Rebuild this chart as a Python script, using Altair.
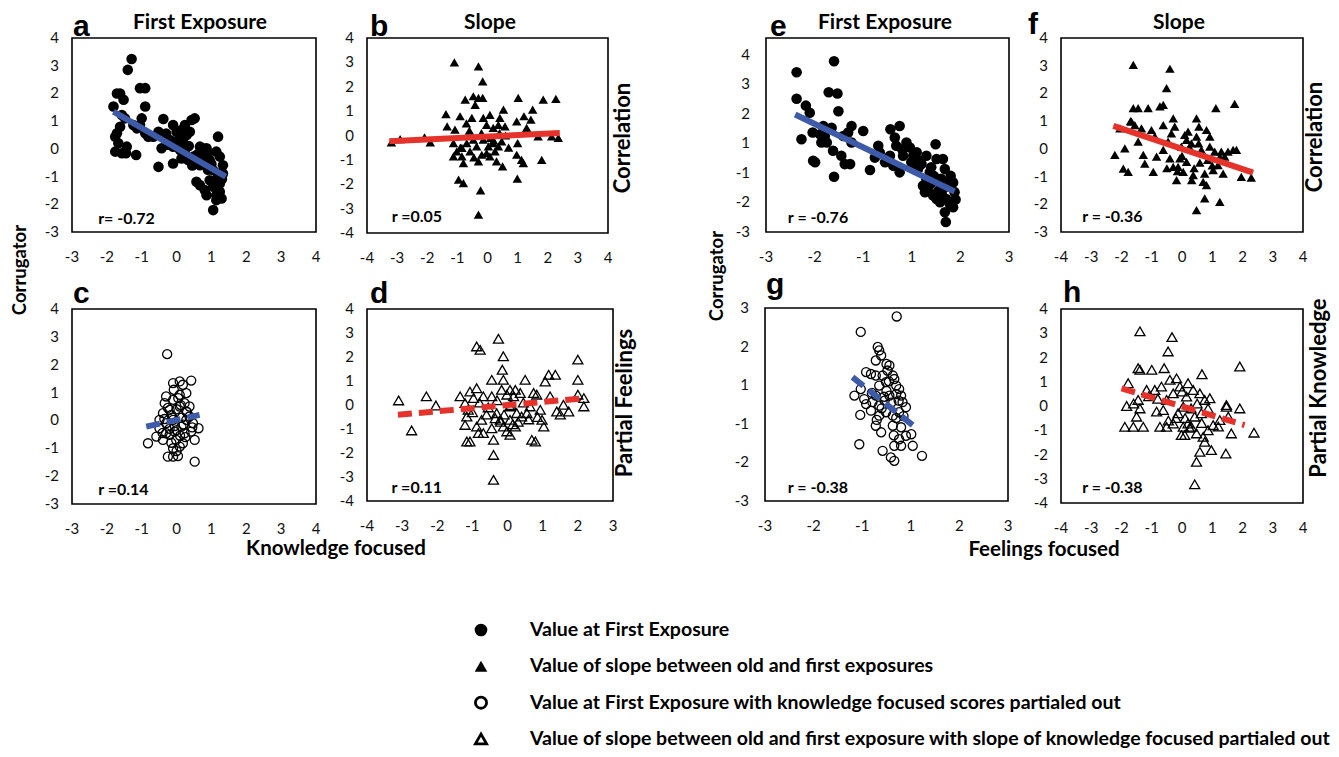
import altair as alt
import pandas as pd

# ---------------- data ----------------
# a: First exposure vs knowledge focused (filled circles)
a_x = [-1.29,-1.40,-1.81,-1.71,-1.62,-1.52,-1.71,-1.76,-1.62,-1.67,-1.76,-1.57,-1.43,-1.45,-1.16,-1.57,-1.48,
       -1.05,-0.90,-0.90,-1.00,-1.05,-1.24,-0.90,-1.14,-0.81,
       -0.38,-0.52,-0.67,-0.43,-0.52,-0.10,
       -0.10,0.00,0.14,0.24,0.43,0.52,0.38,0.29,0.10,-0.19,-0.10,0.10,0.24,0.14,0.33,0.48,0.57,0.67,0.76,0.90,
       0.86,0.81,0.67,0.95,1.19,1.14,1.24,1.33,1.05,1.19,1.33,
       0.57,0.67,0.81,0.86,1.05,1.14,1.24,1.29,1.14,1.05,0.95,1.10,1.24,
       0.05,0.20,0.35,0.60,0.70,0.45,-0.25,-0.30,0.90,1.00,1.30,1.20]
a_y = [3.24,2.85,1.53,2.00,2.00,1.77,0.56,0.44,0.80,0.20,-0.10,-0.16,0.08,-0.16,-0.22,1.22,1.10,
       2.19,2.19,1.53,1.10,0.86,0.86,0.56,0.74,0.44,
       1.08,0.62,0.44,0.02,-0.65,-0.53,
       0.86,0.62,0.68,0.86,1.04,1.10,0.62,0.50,0.44,0.32,0.08,-0.04,-0.16,-0.35,-0.40,-0.28,-0.47,0.08,0.02,-0.16,
       0.02,-0.40,-0.59,-0.40,0.44,-0.10,-0.28,-0.59,-0.77,-0.89,-0.89,
       -1.19,-1.31,-1.49,-1.67,-1.37,-1.67,-1.55,-1.79,-1.85,-2.21,-1.13,-1.19,-1.25,
       0.30,0.20,0.10,-0.20,-0.30,-0.60,0.15,0.55,-0.75,-0.55,-1.10,-1.00]

# b: slope vs knowledge focused (filled triangles)
b_x = [-1.10,-0.30,-0.16,-0.74,-0.47,-0.30,-0.16,-0.41,
       -1.38,-0.91,-1.34,-1.08,
       -0.52,-0.14,0.08,-0.03,0.41,0.53,0.36,0.19,0.58,
       1.02,0.97,1.21,1.50,1.44,1.30,1.85,2.27,2.13,2.35,1.68,
       -3.19,-2.90,-2.09,-1.90,
       -1.13,-1.02,-1.13,-0.85,-0.80,-0.58,-0.47,-0.36,-0.19,-0.30,-0.03,0.08,0.25,0.36,0.47,0.30,0.50,0.19,-0.14,0.03,-0.69,-0.85,
       -0.96,-0.80,-0.23,-0.30,
       1.00,0.97,1.13,1.19,0.99,1.80,
       -0.60,-0.20,0.10,0.40,-0.90,0.60,-0.45,0.20,0.70,-0.70]
b_y = [3.00,2.84,2.22,1.47,1.61,1.54,1.54,1.26,
       0.88,0.79,0.37,0.24,
       0.72,0.72,0.85,0.44,0.72,1.06,0.44,0.31,0.37,
       1.54,0.58,0.79,1.06,0.65,0.31,1.47,1.50,-0.04,-0.10,-0.04,
       -0.28,-0.15,-0.08,-0.28,
       -0.31,-0.65,-0.86,-0.86,-1.13,-0.65,-0.17,-0.45,-0.79,-1.06,-0.72,-0.86,-0.65,-0.45,-0.24,-1.06,-1.27,-0.31,-0.17,-0.45,-0.31,-0.51,
       -1.81,-1.95,-2.25,-3.25,
       -0.31,-0.79,-1.00,-1.13,-1.77,-1.00,
       0.20,0.10,-0.10,0.10,-0.50,0.00,-0.90,-0.20,-0.50,0.50]

# c: first exposure, partialed (open circles)
c_x = [-0.27,0.09,0.18,0.42,-0.30,-0.10,0.09,0.28,0.37,-0.39,-0.49,-0.30,-0.10,0.14,0.28,0.47,0.63,0.52,-0.58,-0.82,
       -0.39,-0.20,-0.01,0.18,-0.25,-0.10,0.04,0.52,0.09,-0.20,0.23,-0.30,-0.06,0.42,-0.49,-0.34,0.23,-0.10,0.28,0.09,
       -0.10,0.37,
       -0.15,0.00,0.15,-0.05,0.10,-0.20,0.05,-0.35,0.30,-0.15,0.20,0.00,-0.25,0.12,-0.08,0.25,-0.40,0.45,0.00,-0.12]
c_y = [2.38,1.40,1.28,1.43,0.86,0.74,0.92,0.98,0.50,0.26,0.02,-0.10,0.02,-0.22,0.02,-0.10,-0.28,-0.70,-0.58,-0.82,
       -0.70,-0.52,-0.70,-0.82,-1.30,-1.30,-1.28,-1.48,0.50,0.38,-0.46,-0.46,-0.40,-0.40,-0.28,0.62,0.62,1.34,0.32,-0.94,
       -1.00,0.14,
       0.20,0.40,0.10,-0.20,-0.55,-0.30,0.80,0.05,0.30,-0.80,-0.15,-1.10,0.45,0.55,1.10,-0.60,-0.45,-0.25,-0.35,0.10]

# d: slope, partialed (open triangles)
d_x = [-3.10,-2.73,-2.31,-2.04,
       -0.88,-0.78,-0.26,-0.12,-0.15,-0.12,
       -1.35,-1.21,-1.07,-0.88,-0.97,-1.12,-1.16,-1.21,-1.16,-1.07,-0.88,-0.83,-0.69,-0.74,-0.69,-0.45,-0.45,
       -0.40,-0.40,-0.40,-0.45,
       -0.31,-0.21,-0.12,-0.02,0.07,-0.17,-0.02,0.07,0.22,0.36,0.50,0.17,0.26,0.40,0.55,0.74,0.83,0.64,0.93,0.98,
       1.03,0.69,0.79,1.07,1.17,1.36,1.21,1.40,1.59,1.74,2.00,2.00,2.00,2.17,2.17,0.07,0.22,0.07,
       -0.55,-0.30,-0.10,0.10,0.30,-0.60,-0.20,0.45,0.85,-1.00,-0.35,0.15,0.60,-0.80,1.50]
d_y = [0.19,-1.06,0.36,-0.02,
       2.44,2.30,2.76,2.03,1.47,1.05,
       0.36,0.08,0.56,0.70,0.29,-0.20,-0.48,-0.83,-1.52,-1.52,-0.90,-1.17,-1.17,-0.62,0.36,1.05,0.36,
       -1.45,-2.08,-3.12,-0.97,
       -0.34,-0.62,-0.90,-1.10,-1.24,0.63,0.43,0.63,0.63,0.50,1.05,0.36,-0.34,-0.48,-0.34,0.50,0.43,-0.06,-0.20,-0.62,
       -0.90,-1.45,-1.52,0.98,1.26,1.26,0.36,-0.27,0.01,-0.27,1.89,1.05,0.43,0.29,-0.06,-0.62,-0.90,-0.06,
       -0.10,0.20,-0.40,0.00,-0.70,-0.40,-0.70,0.10,-0.50,-0.30,-0.55,-0.80,-0.60,0.10,-0.40]

# e: first exposure vs feelings focused (axis positions; the printed labels skip 0)
e_x = [-2.37,-2.37,-2.18,-2.10,-2.27,-2.04,-2.03,-1.99,
       -1.60,-1.71,-1.53,-1.51,-1.65,-1.75,-1.86,-1.79,-1.89,-1.82,-1.62,-1.60,-1.45,-1.38,-1.27,-1.31,-1.24,-1.24,-1.41,
       -1.00,-0.86,-0.76,-0.69,-0.66,-0.55,-0.45,-0.44,-0.25,-0.35,-0.32,-0.38,-0.25,-0.18,-0.11,-0.04,-0.01,0.03,0.13,0.03,
       0.16,0.30,0.40,0.49,0.51,0.64,0.68,0.64,0.71,0.23,0.27,0.34,0.44,0.51,0.58,0.71,0.78,0.68,0.70,0.85,0.88,0.85,
       0.30,0.37,0.54,
       0.45,0.60,0.75,0.80,0.55,0.20,-0.20,-0.50,0.10,0.62,0.40,0.90]
e_y = [2.41,1.51,1.28,1.04,0.14,0.37,-0.59,-0.64,
       2.78,1.73,1.69,1.09,0.53,0.03,0.03,0.25,0.31,0.59,-0.25,-1.13,-0.42,-0.70,-0.70,0.37,0.59,0.03,0.25,
       0.42,-0.90,-0.48,-0.08,-0.31,-0.64,-0.42,0.48,0.59,0.20,-0.08,-0.76,-0.98,-0.42,0.03,-0.14,-0.64,-0.81,-0.87,-0.42,
       -0.59,-0.42,-0.81,-0.03,-0.53,-0.53,-0.87,-1.54,-1.37,-1.43,-1.65,-1.54,-1.76,-1.88,-1.99,-1.88,-2.04,-2.33,-2.66,-2.16,
       -1.65,-1.32,-1.21,-0.98,-1.21,
       -1.10,-1.20,-1.45,-1.10,-1.60,-0.70,-0.20,-0.55,-0.30,-1.75,-1.35,-1.90]

# f: slope vs feelings focused (filled triangles)
f_x = [-1.61,-0.40,-0.51,1.74,1.12,
       -1.61,-1.45,-1.12,-0.73,-0.62,
       -2.22,-1.89,-1.94,-1.78,-2.05,-1.67,-1.56,-1.34,-1.01,-1.45,-1.28,-1.23,-0.95,-0.84,-0.62,-0.29,-0.24,-0.35,-0.46,-0.62,
       -0.40,-0.29,-0.13,-0.18,0.04,0.15,-0.02,0.09,0.20,0.31,0.48,0.48,0.56,0.81,0.92,0.92,0.64,0.37,0.32,0.75,
       0.70,0.81,0.75,0.48,1.25,1.03,1.19,1.30,1.41,1.52,1.69,1.80,1.36,1.96,2.29,1.08,0.59,0.15,-0.07,
       -0.90,-0.50,0.00,0.25,0.55,0.85,1.00,-0.15,0.40,-1.70,1.25]
f_y = [3.03,2.89,2.19,1.62,1.47,
       1.47,1.47,1.47,1.53,1.59,
       -0.22,0.02,-0.71,-0.83,0.74,0.98,0.86,0.74,0.68,0.26,-0.22,-0.53,-0.83,-0.28,0.86,1.10,0.80,0.56,0.26,-0.04,
       -0.34,-0.65,-0.65,-1.13,-0.83,-0.47,0.08,0.50,0.62,0.20,0.44,1.10,0.80,0.68,0.44,0.08,-0.04,-0.95,-1.13,-0.89,
       -1.19,-1.31,-1.79,-2.21,-1.91,-0.77,-0.59,-0.10,-0.28,-0.10,-0.04,-0.04,-0.89,-1.01,-1.04,-0.10,-0.50,0.32,-0.34,
       0.45,-0.70,-0.25,0.05,0.20,-0.40,-0.60,-0.80,-0.70,1.00,-0.30]

# g: first exposure, partialed (open circles; axis positions, printed labels skip 0)
g_x = [-0.29,-1.03,-0.68,-0.65,-0.61,-0.72,
       -0.92,-0.82,-0.72,-0.58,-0.48,-0.37,-0.34,-0.51,-0.65,-1.03,-1.16,-0.96,-0.79,-0.65,-0.54,-0.44,-0.30,-0.20,-0.17,
       -0.10,-0.24,-0.37,-0.51,-0.65,-0.72,-0.61,-0.37,-0.20,0.01,0.04,0.23,-0.24,-0.34,-0.20,-0.58,-0.41,-0.34,-1.04,-1.06,
       -0.92,-0.82,-0.30,-0.24,-0.72,-0.44,-0.10,
       -0.50,-0.40,-0.60,-0.30,-0.45,-0.55,-0.25,-0.80,-0.70,-0.15,-0.35,-0.50]
g_y = [1.78,1.38,0.99,0.90,0.77,0.64,
       0.34,0.29,0.25,0.25,0.38,0.25,0.16,0.08,-0.01,-0.10,-0.27,-0.36,-0.44,-0.53,-0.40,-0.27,-0.23,-0.27,-0.44,
       -0.57,-0.70,-0.79,-0.70,-0.79,-1.05,-1.22,-1.05,-1.09,-1.27,-1.57,-1.83,-1.40,-1.57,-1.57,-1.70,-1.87,-1.96,-0.77,-1.53,
       -0.49,-0.66,-0.01,-0.10,-0.27,0.51,-1.31,
       -0.15,-0.45,-0.60,-0.85,0.10,-0.30,-0.40,-0.20,-0.90,-0.80,-1.30,0.55]

# h: slope, partialed (open triangles)
h_x = [-1.39,-0.33,-0.46,-0.59,1.91,0.66,
       -1.45,-1.39,-1.00,-1.78,-1.83,-1.89,-1.61,-1.28,-1.50,-1.45,-1.39,-1.17,-0.90,-0.84,-0.62,-0.68,-0.40,-0.18,-0.07,
       -0.29,-0.51,-0.73,-0.51,-0.29,-0.13,0.04,0.15,0.20,0.37,0.59,0.75,0.92,0.86,0.64,0.42,0.20,0.04,-0.02,0.09,
       0.31,0.48,0.70,0.86,1.03,0.75,0.59,0.48,0.42,0.97,1.45,1.47,1.53,1.63,1.91,2.38,1.47,1.25,
       -1.10,-0.80,0.10,0.30,0.50,-0.20,0.25,0.00,-0.45,0.65,1.20,-1.60]
h_y = [3.08,2.84,2.25,1.56,1.63,1.31,
       1.56,1.49,1.49,0.94,0.00,-0.86,-0.86,-0.86,-0.44,0.25,-0.10,0.66,0.66,-0.23,-0.17,0.80,1.08,1.14,0.80,
       0.52,0.25,-0.86,-0.86,-0.72,-0.30,-0.03,0.39,0.94,0.66,0.52,0.25,0.32,-0.10,-0.30,-0.44,-0.72,-0.86,-1.20,-1.20,
       -0.86,-1.13,-1.27,-1.00,-0.79,-1.48,-1.89,-2.30,-3.23,-1.82,-1.96,-0.03,-0.44,-1.13,-0.10,-1.10,0.04,-0.58,
       0.40,0.30,-0.50,-0.10,0.10,-0.50,-0.90,0.60,-0.60,-0.70,-0.85,0.10]

# regression-line end points
a_line_x, a_line_y = [-1.81, 1.41], [1.34, -1.00]
b_line_x, b_line_y = [-3.26, 2.40], [-0.24, 0.10]
c_line_x, c_line_y = [-0.87, 0.66], [-0.22, 0.20]
d_line_x, d_line_y = [-3.12, 2.24], [-0.41, 0.29]
e_line_x, e_line_y = [-2.40, 0.88], [0.98, -1.63]
f_line_x, f_line_y = [-2.27, 2.35], [0.83, -0.86]
g_line_x, g_line_y = [-1.20, 0.09], [0.21, -1.09]
h_line_x, h_line_y = [-2.00, 2.07], [0.73, -0.79]

r_labels = ["r= -0.72", "r =0.05", "r =0.14", "r =0.11", "r = -0.76", "r = -0.36", "r = -0.38", "r = -0.38"]
panel_letters = ["a", "b", "c", "d", "e", "f", "g", "h"]
panel_titles = ["First Exposure", "Slope", "First Exposure", "Slope"]
side_titles = ["Correlation", "Partial Feelings", "Correlation", "Partial Knowledge"]
y_title = "Corrugator"
x_titles = ["Knowledge focused", "Feelings focused"]

# tick positions and the labels printed at them
ticks_m3_4 = [-3, -2, -1, 0, 1, 2, 3, 4]
labels_m3_4 = ["-3", "-2", "-1", "0", "1", "2", "3", "4"]
ticks_m4_4 = [-4, -3, -2, -1, 0, 1, 2, 3, 4]
labels_m4_4 = ["-4", "-3", "-2", "-1", "0", "1", "2", "3", "4"]
ticks_m4_3 = [-4, -3, -2, -1, 0, 1, 2, 3]
labels_m4_3 = ["-4", "-3", "-2", "-1", "0", "1", "2", "3"]
ticks_m3_2 = [-3, -2, -1, 0, 1, 2]
labels_skip0_6 = ["-3", "-2", "-1", "1", "2", "3"]
ticks_m3_3 = [-3, -2, -1, 0, 1, 2, 3]
labels_skip0_7 = ["-3", "-2", "-1", "1", "2", "3", "4"]

legend_labels = ["Value at First Exposure",
                 "Value of slope between old and first exposures",
                 "Value at First Exposure with knowledge focused scores partialed out",
                 "Value of slope between old and first exposure with slope of knowledge focused partialed out"]
legend_shapes = ["circle", "triangle-up", "circle", "triangle-up"]
legend_filled = [True, True, False, False]

# ---------------- styling / layout ----------------
W, H = 1323, 741
FONT = "Lato"
BLUE = "#3d5ba9"
RED = "#e5322b"
TICK_COLOR = "#111111"

panels = [
    dict(x=a_x, y=a_y, lx=a_line_x, ly=a_line_y, xdom=[-3, 4], ydom=[-3, 4], xr=[64, 308], yr=[224, 30],
         shape="circle", filled=True, size=112, sw=1, color=BLUE, dash=False, r=r_labels[0], rx=-2.25, ry=-2.71,
         xt=ticks_m3_4, xl=labels_m3_4, yt=ticks_m3_4, yl=labels_m3_4, lp=13),
    dict(x=b_x, y=b_y, lx=b_line_x, ly=b_line_y, xdom=[-4, 4], ydom=[-4, 4], xr=[359, 600], yr=[225, 30],
         shape="triangle-up", filled=True, size=90, sw=1, color=RED, dash=False, r=r_labels[1], rx=-3.18, ry=-3.54,
         xt=ticks_m4_4, xl=labels_m4_4, yt=ticks_m4_4, yl=labels_m4_4, lp=13),
    dict(x=c_x, y=c_y, lx=c_line_x, ly=c_line_y, xdom=[-3, 4], ydom=[-3, 4], xr=[64, 308], yr=[496, 301],
         shape="circle", filled=False, size=82, sw=1.3, color=BLUE, dash=True, r=r_labels[2], rx=-2.25, ry=-2.68,
         xt=ticks_m3_4, xl=labels_m3_4, yt=ticks_m3_4, yl=labels_m3_4, lp=13),
    dict(x=d_x, y=d_y, lx=d_line_x, ly=d_line_y, xdom=[-4, 3], ydom=[-4, 4], xr=[359, 605], yr=[493, 301],
         shape="triangle-up", filled=False, size=100, sw=1.3, color=RED, dash=True, r=r_labels[3], rx=-3.3, ry=-3.67,
         xt=ticks_m4_3, xl=labels_m4_3, yt=ticks_m4_4, yl=labels_m4_4, lp=13),
    dict(x=e_x, y=e_y, lx=e_line_x, ly=e_line_y, xdom=[-3, 2], ydom=[-3, 3.57], xr=[758, 1001], yr=[224, 30],
         shape="circle", filled=True, size=112, sw=1, color=BLUE, dash=False, r=r_labels[4], rx=-2.55, ry=-2.69,
         xt=ticks_m3_2, xl=labels_skip0_6, yt=ticks_m3_3, yl=labels_skip0_7, lp=16),
    dict(x=f_x, y=f_y, lx=f_line_x, ly=f_line_y, xdom=[-4, 4], ydom=[-3, 4], xr=[1053, 1295], yr=[224, 30],
         shape="triangle-up", filled=True, size=90, sw=1, color=RED, dash=False, r=r_labels[5], rx=-3.3, ry=-2.64,
         xt=ticks_m4_4, xl=labels_m4_4, yt=ticks_m3_4, yl=labels_m3_4, lp=13),
    dict(x=g_x, y=g_y, lx=g_line_x, ly=g_line_y, xdom=[-3, 2], ydom=[-3, 2], xr=[757, 1000], yr=[493, 300],
         shape="circle", filled=False, size=82, sw=1.3, color=BLUE, dash=True, r=r_labels[6], rx=-2.53, ry=-2.79,
         xt=ticks_m3_2, xl=labels_skip0_6, yt=ticks_m3_2, yl=labels_skip0_6, lp=16),
    dict(x=h_x, y=h_y, lx=h_line_x, ly=h_line_y, xdom=[-4, 4], ydom=[-4, 4], xr=[1053, 1295], yr=[495, 301],
         shape="triangle-up", filled=False, size=100, sw=1.3, color=RED, dash=True, r=r_labels[7], rx=-3.3, ry=-3.59,
         xt=ticks_m4_4, xl=labels_m4_4, yt=ticks_m4_4, yl=labels_m4_4, lp=13),
]


def make_panel(p):
    xs = alt.Scale(domain=p["xdom"], range=p["xr"], nice=False, zero=False)
    ys = alt.Scale(domain=p["ydom"], range=p["yr"], nice=False, zero=False)

    box_df = pd.DataFrame({"x0": [p["xdom"][0]], "x1": [p["xdom"][1]],
                           "y0": [p["ydom"][0]], "y1": [p["ydom"][1]]})
    box = alt.Chart(box_df).mark_rect(fillOpacity=0, stroke="black", strokeWidth=1.6).encode(
        x=alt.X("x0:Q", scale=xs, axis=None), x2="x1:Q",
        y=alt.Y("y0:Q", scale=ys, axis=None), y2="y1:Q")

    pts = alt.Chart(pd.DataFrame({"x": p["x"], "y": p["y"]})).mark_point(
        shape=p["shape"], filled=p["filled"], size=p["size"], color="black",
        strokeWidth=p["sw"], opacity=1).encode(
        x=alt.X("x:Q", scale=xs, axis=None),
        y=alt.Y("y:Q", scale=ys, axis=None))

    line_kw = dict(color=p["color"], strokeWidth=6)
    if p["dash"]:
        line_kw["strokeDash"] = [14, 7]
    line = alt.Chart(pd.DataFrame({"x": p["lx"], "y": p["ly"]})).mark_line(**line_kw).encode(
        x=alt.X("x:Q", scale=xs, axis=None), y=alt.Y("y:Q", scale=ys, axis=None))

    rt = alt.Chart(pd.DataFrame({"x": [p["rx"]], "y": [p["ry"]], "t": [p["r"]]})).mark_text(
        align="left", baseline="alphabetic", font=FONT, fontWeight="bold", fontSize=16, color="black").encode(
        x=alt.X("x:Q", scale=xs, axis=None), y=alt.Y("y:Q", scale=ys, axis=None), text="t:N")

    # tick labels, placed through the panel's own scales
    xlab = alt.Chart(pd.DataFrame({"v": p["xt"], "t": p["xl"]})).mark_text(
        align="center", baseline="middle", font=FONT, fontSize=15, color=TICK_COLOR).encode(
        x=alt.X("v:Q", scale=xs, axis=None), y=alt.value(p["yr"][0] + 25), text="t:N")
    ylab = alt.Chart(pd.DataFrame({"v": p["yt"], "t": p["yl"]})).mark_text(
        align="right", baseline="middle", font=FONT, fontSize=15, color=TICK_COLOR).encode(
        y=alt.Y("v:Q", scale=ys, axis=None), x=alt.value(p["xr"][0] - p["lp"]), text="t:N")

    return alt.layer(box, pts, line, rt, xlab, ylab)


def label(text, x, y, size, angle=0, align="center", baseline="alphabetic", font=FONT, weight="bold"):
    return alt.Chart(pd.DataFrame({"t": [text]})).mark_text(
        font=font, fontSize=size, fontWeight=weight, angle=angle, align=align,
        baseline=baseline, color="black").encode(x=alt.value(x), y=alt.value(y), text="t:N")


layers = [make_panel(p) for p in panels]

letter_pos = [(65, 28), (362, 28), (65, 295), (362, 295), (762, 28), (1020, 26), (758, 286), (1055, 294)]
for t, (x, y) in zip(panel_letters, letter_pos):
    layers.append(label(t, x, y, 30, align="left", font="Liberation Sans"))

title_pos = [(192, 21), (482, 21), (877, 21), (1171, 21)]
for t, (x, y) in zip(panel_titles, title_pos):
    layers.append(label(t, x, y, 21))

side_pos = [(615, 130), (617, 395), (1307, 129), (1311, 380)]
for t, (x, y) in zip(side_titles, side_pos):
    layers.append(label(t, x, y, 22, angle=270, baseline="middle"))

layers.append(label(y_title, 12, 262, 18.5, angle=270, baseline="middle"))
layers.append(label(y_title, 709, 268, 18.5, angle=270, baseline="middle"))
layers.append(label(x_titles[0], 328, 547, 20.5))
layers.append(label(x_titles[1], 1036, 548, 20.5))

# legend
leg_df = pd.DataFrame({"label": legend_labels, "shape": legend_shapes, "filled": legend_filled})
leg_scale = alt.Scale(type="point", domain=legend_labels, range=[622, 731], padding=0)
leg_sym_f = alt.Chart(leg_df[leg_df["filled"]]).mark_point(filled=True, size=160, color="black", opacity=1).encode(
    x=alt.value(473), y=alt.Y("label:N", scale=leg_scale, axis=None),
    shape=alt.Shape("shape:N", scale=None))
leg_sym_o = alt.Chart(leg_df[~leg_df["filled"]]).mark_point(filled=False, size=125, color="black",
                                                            strokeWidth=2.8, opacity=1).encode(
    x=alt.value(473), y=alt.Y("label:N", scale=leg_scale, axis=None),
    shape=alt.Shape("shape:N", scale=None))
leg_txt = alt.Chart(leg_df).mark_text(align="left", baseline="middle", font=FONT, fontWeight="bold",
                                      fontSize=19.5, color="black").encode(
    x=alt.value(522), y=alt.Y("label:N", scale=leg_scale, axis=None), text="label:N")
layers.append(alt.layer(leg_sym_f, leg_sym_o, leg_txt))

chart = alt.layer(*layers).resolve_scale(x="independent", y="independent").properties(
    width=W, height=H, autosize=alt.AutoSizeParams(type="none"), padding=0, background="white"
).configure_view(stroke=None)

chart.save("out.html", embed_options={"renderer": "svg", "actions": False})
